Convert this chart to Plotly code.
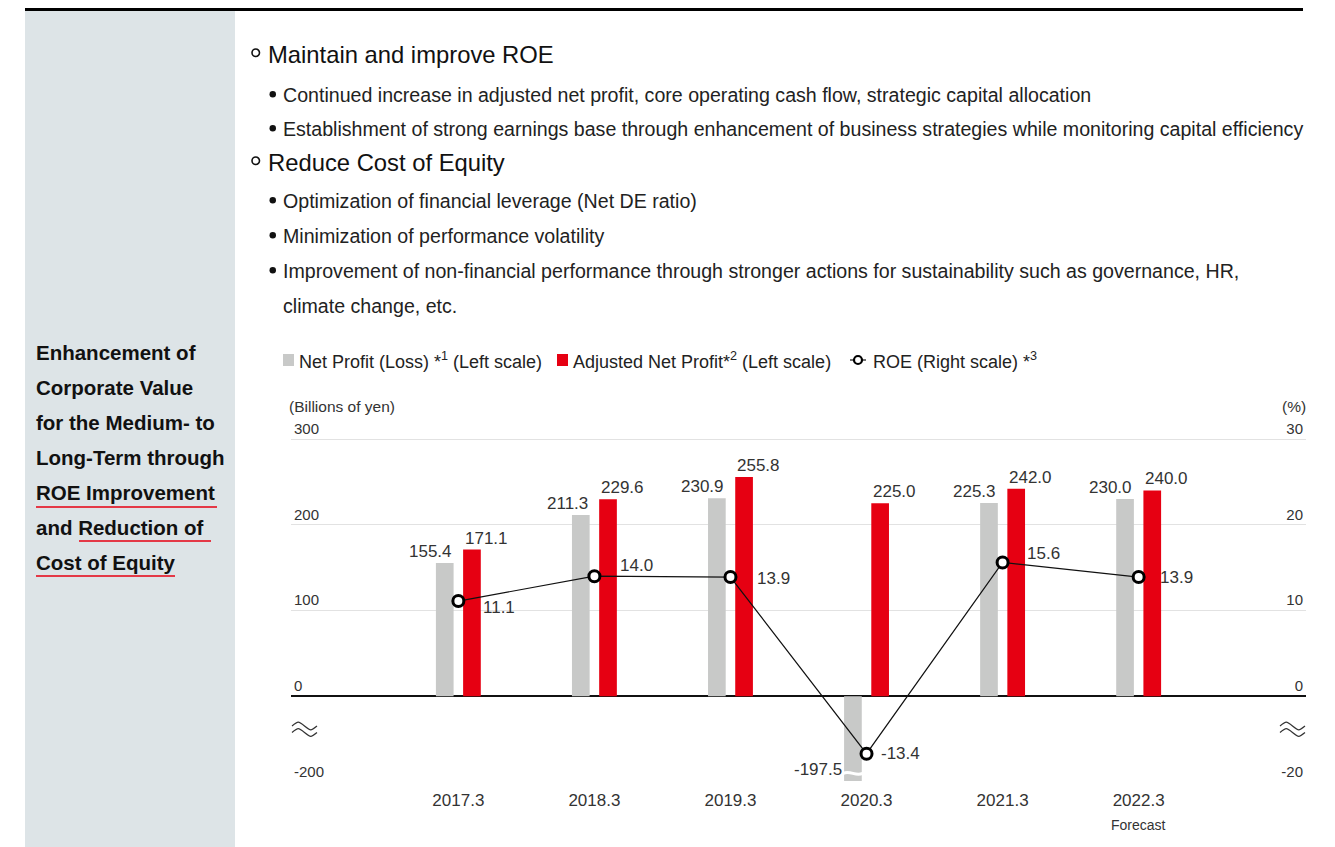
import plotly.graph_objects as go

# ---------------- data ----------------
categories = ["2017.3", "2018.3", "2019.3", "2020.3", "2021.3", "2022.3"]
net_profit = [155.4, 211.3, 230.9, -197.5, 225.3, 230.0]
adjusted_net_profit = [171.1, 229.6, 255.8, 225.0, 242.0, 240.0]
roe = [11.1, 14.0, 13.9, -13.4, 15.6, 13.9]
left_ticks = [300, 200, 100, 0, -200]
right_ticks = [30, 20, 10, 0, -20]

# ---------------- helpers ----------------
OFF = 8  # page body margin
W, H = 1335 - OFF, 847 - OFF
FONT = "Liberation Sans, Arial, Helvetica, sans-serif"
GRAY = "#c8c9c8"
RED = "#e60012"
TXT = "#333333"


def px(x):
    return (x - OFF) / W


def py(y):
    return 1 - (y - OFF) / H


def brk(v):
    """Broken axis: the negative part of the axis is compressed by half."""
    return v if v >= 0 else v / 2


idx = list(range(len(categories)))

fig = go.Figure()

fig.add_trace(go.Bar(
    x=idx, y=[brk(v) for v in net_profit], customdata=net_profit,
    offset=-0.165, width=0.13, marker=dict(color=GRAY, line_width=0),
    name="Net Profit (Loss)", hovertemplate="%{customdata}<extra></extra>"))
fig.add_trace(go.Bar(
    x=idx, y=[brk(v) for v in adjusted_net_profit], customdata=adjusted_net_profit,
    offset=0.035, width=0.13, marker=dict(color=RED, line_width=0),
    name="Adjusted Net Profit", hovertemplate="%{customdata}<extra></extra>"))
fig.add_trace(go.Scatter(
    x=idx, y=[brk(v) for v in roe], customdata=roe, yaxis="y2",
    mode="lines+markers", line=dict(color="#111111", width=1.2),
    marker=dict(size=11, color="white", line=dict(color="#000000", width=3)),
    name="ROE", hovertemplate="%{customdata}<extra></extra>"))

ann = []
shapes = []
LBL = dict(size=17, color=TXT, family=FONT)

# value labels for bars
for i, v in enumerate(net_profit):
    xpos = i - 0.035 if v >= 0 else i - 0.165
    ann.append(dict(x=xpos, y=brk(v), xref="x", yref="y", text=f"{v:.1f}",
                    xanchor="right", yanchor="bottom", showarrow=False, font=LBL))
for i, v in enumerate(adjusted_net_profit):
    ann.append(dict(x=i + 0.035, y=brk(v), xref="x", yref="y", text=f"{v:.1f}",
                    xanchor="left", yanchor="bottom", showarrow=False, font=LBL))

# ROE labels (offsets in pixels)
roe_xshift = [23, 24, 25, 12, 22, 19]
roe_yshift = [-6, 11, -1, 0, 9, 0]
for i, v in enumerate(roe):
    ann.append(dict(x=i, y=brk(v), xref="x", yref="y2", text=f"{v:.1f}",
                    xanchor="left", yanchor="middle", showarrow=False,
                    xshift=roe_xshift[i], yshift=roe_yshift[i], font=LBL))

# break mark on the negative bar
for i, v in enumerate(net_profit):
    if v < -100:
        x0, x1 = i - 0.17, i - 0.03
        yb = -90
        w = x1 - x0
        shapes.append(dict(type="path", xref="x", yref="y",
                           path=f"M {x0},{yb} C {x0 + w/3},{yb + 4} {x0 + 2*w/3},{yb - 4} {x1},{yb}",
                           line=dict(color="white", width=3)))

# axis break symbols (two waves)
for xx in (292, 1280):
    for yy in (726, 732.5):
        a, b = px(xx), px(xx + 25)
        yc = py(yy)
        d = 3.2 / H
        wq = (b - a)
        shapes.append(dict(type="path", xref="paper", yref="paper",
                           path=(f"M {a},{yc} C {a + wq*0.25},{yc + d*1.6} {a + wq*0.25},{yc + d*1.6} {a + wq*0.5},{yc} "
                                 f"C {a + wq*0.75},{yc - d*1.6} {a + wq*0.75},{yc - d*1.6} {b},{yc}"),
                           line=dict(color="#333", width=1.2)))

# axis titles
ann.append(dict(x=px(287), y=py(407), xref="paper", yref="paper", text="(Billions of yen)",
                showarrow=False, xanchor="left", yanchor="middle",
                font=dict(size=15.5, color=TXT, family=FONT)))
ann.append(dict(x=px(1308), y=py(407), xref="paper", yref="paper", text="(%)",
                showarrow=False, xanchor="right", yanchor="middle",
                font=dict(size=15.5, color=TXT, family=FONT)))
ann.append(dict(x=5, y=py(825), xref="x", yref="paper", text="Forecast",
                showarrow=False, xanchor="center", yanchor="middle",
                font=dict(size=14, color=TXT, family=FONT)))

# legend (drawn manually)
LEG_Y = 360
LEGF = dict(size=18, color="#222", family=FONT)
shapes.append(dict(type="rect", xref="paper", yref="paper", x0=px(283), x1=px(294),
                   y0=py(366), y1=py(354), fillcolor=GRAY, line_width=0))
ann.append(dict(x=px(297), y=py(LEG_Y), xref="paper", yref="paper",
                text="Net Profit (Loss) *<sup>1</sup> (Left scale)", showarrow=False,
                xanchor="left", yanchor="middle", font=LEGF))
shapes.append(dict(type="rect", xref="paper", yref="paper", x0=px(557), x1=px(568),
                   y0=py(366), y1=py(354), fillcolor=RED, line_width=0))
ann.append(dict(x=px(571), y=py(LEG_Y), xref="paper", yref="paper",
                text="Adjusted Net Profit*<sup>2</sup> (Left scale)", showarrow=False,
                xanchor="left", yanchor="middle", font=LEGF))
shapes.append(dict(type="line", xref="paper", yref="paper", x0=px(850), x1=px(866),
                   y0=py(LEG_Y), y1=py(LEG_Y), line=dict(color="#111", width=1.2)))
shapes.append(dict(type="circle", xref="paper", yref="paper", x0=px(854), x1=px(862),
                   y0=py(364), y1=py(356), fillcolor="white", line=dict(color="#000", width=2.2)))
ann.append(dict(x=px(871), y=py(LEG_Y), xref="paper", yref="paper",
                text="ROE (Right scale) *<sup>3</sup>", showarrow=False,
                xanchor="left", yanchor="middle", font=LEGF))

# left panel and top rule
shapes.append(dict(type="rect", xref="paper", yref="paper", x0=px(25), x1=px(235),
                   y0=0, y1=py(11), fillcolor="#dde4e7", line_width=0, layer="below"))
shapes.append(dict(type="line", xref="paper", yref="paper", x0=px(25), x1=px(1303),
                   y0=py(9.5), y1=py(9.5), line=dict(color="#000", width=3)))

left_lines = ["Enhancement of", "Corporate Value", "for the Medium- to",
              "Long-Term through", "ROE Improvement", "and Reduction of", "Cost of Equity"]
for k, t in enumerate(left_lines):
    ann.append(dict(x=px(34), y=py(352 + 35 * k), xref="paper", yref="paper", text=f"<b>{t}</b>",
                    showarrow=False, xanchor="left", yanchor="middle",
                    font=dict(size=20.5, color="#111", family=FONT)))
for (a, b, yy) in [(36, 217, 507), (79, 211, 541), (36, 175, 576)]:
    shapes.append(dict(type="line", xref="paper", yref="paper", x0=px(a), x1=px(b),
                       y0=py(yy), y1=py(yy), line=dict(color=RED, width=1.3)))

# top text
headings = [("Maintain and improve ROE", 55), ("Reduce Cost of Equity", 163)]
for t, yy in headings:
    shapes.append(dict(type="circle", xref="paper", yref="paper", x0=px(252), x1=px(259.5),
                       y0=py(yy + 1.5), y1=py(yy - 6), line=dict(color="#111", width=1.6)))
    ann.append(dict(x=px(266), y=py(yy), xref="paper", yref="paper", text=t, showarrow=False,
                    xanchor="left", yanchor="middle", font=dict(size=23.8, color="#111", family=FONT)))

BODY = dict(size=19.6, color="#222", family=FONT)
bullets = [
    ("Continued increase in adjusted net profit, core operating cash flow, strategic capital allocation", 95),
    ("Establishment of strong earnings base through enhancement of business strategies while monitoring capital efficiency", 129),
    ("Optimization of financial leverage (Net DE ratio)", 201),
    ("Minimization of performance volatility", 236),
    ("Improvement of non-financial performance through stronger actions for sustainability such as governance, HR,", 271),
]
for t, yy in bullets:
    shapes.append(dict(type="circle", xref="paper", yref="paper", x0=px(269.5), x1=px(276),
                       y0=py(yy + 2.5), y1=py(yy - 4), fillcolor="#111", line_width=0))
    ann.append(dict(x=px(281), y=py(yy), xref="paper", yref="paper", text=t, showarrow=False,
                    xanchor="left", yanchor="middle", font=BODY))
ann.append(dict(x=px(281), y=py(306), xref="paper", yref="paper", text="climate change, etc.",
                showarrow=False, xanchor="left", yanchor="middle", font=BODY))

# plot area: visual range -100..300 maps to y 782..439 px; extended up a bit to fit top tick labels
PXU = (782 - 439) / 400.0
EXT = 25
fig.update_layout(
    width=W, height=H, margin=dict(l=0, r=0, t=0, b=0),
    paper_bgcolor="white", plot_bgcolor="white", showlegend=False, barmode="overlay",
    font=dict(family=FONT, color=TXT),
    xaxis=dict(domain=[px(291), px(1306)], range=[-1.23, 6.23], tickmode="array",
               tickvals=idx, ticktext=categories, showgrid=False, zeroline=False,
               showline=False, ticks="", tickfont=dict(size=17, color=TXT, family=FONT),
               ticklabelstandoff=6, fixedrange=True),
    yaxis=dict(domain=[py(782), py(439 - EXT * PXU)], range=[-100, 300 + EXT], tickmode="array",
               tickvals=[brk(t) for t in left_ticks], ticktext=[str(t) for t in left_ticks],
               showgrid=True, gridcolor="#e2e2e2", gridwidth=1.2, zeroline=True,
               zerolinecolor="#111", zerolinewidth=1.5, ticks="", showline=False,
               ticklabelposition="inside top", tickfont=dict(size=15, color=TXT, family=FONT),
               fixedrange=True),
    yaxis2=dict(overlaying="y", side="right", range=[-10, 30 + EXT / 10], tickmode="array",
                tickvals=[brk(t) for t in right_ticks], ticktext=[str(t) for t in right_ticks],
                showgrid=False, zeroline=False, ticks="", showline=False,
                ticklabelposition="inside top", tickfont=dict(size=15, color=TXT, family=FONT),
                fixedrange=True),
    annotations=ann, shapes=shapes,
)

fig.write_html("out.html")
